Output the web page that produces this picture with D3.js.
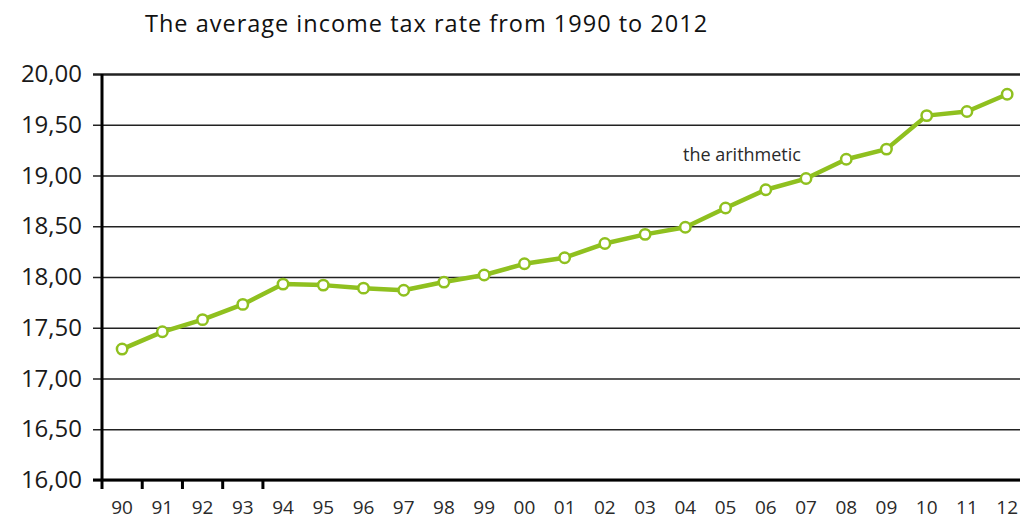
<!DOCTYPE html>
<html>
<head>
<meta charset="utf-8">
<script src="https://cdn.jsdelivr.net/npm/d3@7"></script>
<style>
  html, body { margin: 0; padding: 0; background: #fff; overflow: hidden; }
  svg { display: block; font-family: "Open Sans", sans-serif; }
</style>
</head>
<body>
<svg id="chart"></svg>
<script>
// Daten: durchschnittlicher Einkommensteuersatz 1990–2012
const years = ["90","91","92","93","94","95","96","97","98","99","00","01",
               "02","03","04","05","06","07","08","09","10","11","12"];
const rates = [17.29, 17.46, 17.58, 17.73, 17.93, 17.92, 17.89, 17.87, 17.95, 18.02,
               18.13, 18.19, 18.33, 18.42, 18.49, 18.68, 18.86, 18.97, 19.16, 19.26,
               19.59, 19.63, 19.80];
const yTicks = [16, 16.5, 17, 17.5, 18, 18.5, 19, 19.5, 20];
const tickedYears = ["90","91","92","93","94"];

const data = years.map((y, i) => ({ year: y, rate: rates[i] }));

const width = 1020, height = 520;
const margin = { top: 74, right: 0, bottom: 40, left: 102 };
const innerHeight = height - margin.top - margin.bottom;
const band = 40.23;

const svg = d3.select("#chart")
  .attr("width", width)
  .attr("height", height);

// Titel
svg.append("text")
  .attr("x", 145)
  .attr("y", 32)
  .attr("font-size", "23.5px")
  .attr("letter-spacing", "1px")
  .attr("fill", "#111")
  .text("The average income tax rate from 1990 to 2012");

const g = svg.append("g")
  .attr("transform", `translate(${margin.left},${margin.top})`);

const x = d3.scaleBand()
  .domain(years)
  .range([0, band * years.length])
  .padding(0);

const y = d3.scaleLinear()
  .domain([16, 20])
  .range([innerHeight, 0]);

// Gitterlinien + Y-Achse
const yAxis = g.append("g")
  .call(d3.axisLeft(y)
    .tickValues(yTicks)
    .tickSize(-(width - margin.left))
    .tickPadding(20)
    .tickFormat(d => d3.format(".2f")(d).replace(".", ",")));
yAxis.select(".domain").remove();
yAxis.selectAll(".tick line")
  .attr("x1", -9)
  .attr("stroke", "#222")
  .attr("stroke-width", d => d === 20 ? 2.5 : 1.5);
yAxis.selectAll(".tick text")
  .attr("font-family", "Open Sans, sans-serif")
  .attr("font-size", "24px")
  .attr("fill", "#1a1a1a");

// Achsenlinien
g.append("line")
  .attr("x1", 0).attr("x2", 0)
  .attr("y1", 0).attr("y2", innerHeight)
  .attr("stroke", "#000").attr("stroke-width", 3);
g.append("line")
  .attr("x1", -9).attr("x2", width - margin.left)
  .attr("y1", innerHeight).attr("y2", innerHeight)
  .attr("stroke", "#000").attr("stroke-width", 3);

// Striche unter der X-Achse (nur am Anfang)
g.selectAll(".xtick")
  .data(tickedYears)
  .join("line")
  .attr("class", "xtick")
  .attr("x1", d => x(d)).attr("x2", d => x(d))
  .attr("y1", innerHeight).attr("y2", innerHeight + 9)
  .attr("stroke", "#000").attr("stroke-width", 3);

// X-Beschriftung
g.selectAll(".xlabel")
  .data(years)
  .join("text")
  .attr("class", "xlabel")
  .attr("x", d => x(d) + x.bandwidth() / 2)
  .attr("y", innerHeight + 34)
  .attr("text-anchor", "middle")
  .attr("font-size", "19px")
  .attr("fill", "#2a2a2a")
  .text(d => d);

// Linie
const line = d3.line()
  .x(d => x(d.year) + x.bandwidth() / 2)
  .y(d => y(d.rate));

g.append("path")
  .datum(data)
  .attr("fill", "none")
  .attr("stroke", "#8fc01f")
  .attr("stroke-width", 4.5)
  .attr("stroke-linejoin", "round")
  .attr("d", line);

g.selectAll("circle")
  .data(data)
  .join("circle")
  .attr("cx", d => x(d.year) + x.bandwidth() / 2)
  .attr("cy", d => y(d.rate))
  .attr("r", 5.2)
  .attr("fill", "#fff")
  .attr("stroke", "#8fc01f")
  .attr("stroke-width", 2.5);

// Beschriftung der Reihe
svg.append("text")
  .attr("x", 683)
  .attr("y", 161)
  .attr("font-size", "18px")
  .attr("fill", "#2a2a2a")
  .text("the arithmetic");
</script>
</body>
</html>
